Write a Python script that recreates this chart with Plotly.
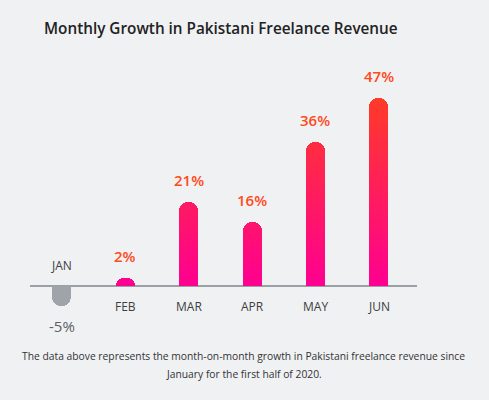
import plotly.graph_objects as go

months = ["JAN", "FEB", "MAR", "APR", "MAY", "JUN"]
growth = [-5, 2, 21, 16, 36, 47]
value_labels = ["-5%", "2%", "21%", "16%", "36%", "47%"]

title_text = "Monthly Growth in Pakistani Freelance Revenue"
note_lines = ["The data above represents the month-on-month growth in Pakistani freelance revenue since",
              "January for the first half of 2020."]

BG = "#f0f1f3"
PINK = (255, 0, 144)
RED = (255, 58, 40)
GRAY = "#9ea4aa"
FONT = "Open Sans"


def mix(t):
    c = [round(PINK[i] + (RED[i] - PINK[i]) * t) for i in range(3)]
    return "rgb(%d,%d,%d)" % tuple(c)


fig = go.Figure()

top = max(growth)
steps = int(top)
# gradient: stack thin slices of each positive bar, coloured by height
for k in range(steps):
    ys = [max(0, min(v - k, 1)) if v > 0 else 0 for v in growth]
    fig.add_trace(go.Bar(
        x=months, y=ys, width=0.3,
        marker=dict(color=mix(k / (steps - 1)), line=dict(width=0), cornerradius=9),
        showlegend=False, hoverinfo="skip",
    ))

fig.add_trace(go.Bar(
    x=months, y=[v if v < 0 else 0 for v in growth], width=0.3,
    marker=dict(color=GRAY, line=dict(width=0), cornerradius=9),
    showlegend=False, hoverinfo="skip",
))

for m, v, lab in zip(months, growth, value_labels):
    pos = v >= 0
    fig.add_annotation(
        x=m, y=v, text=lab, showarrow=False,
        yanchor="bottom" if pos else "top", yshift=10 if pos else -8,
        font=dict(family=FONT, size=15, color="#ff4a1c" if pos else "#5c6064", weight=600 if pos else 400),
    )
    fig.add_annotation(
        x=m, y=0, text=m, showarrow=False,
        yanchor="top" if pos else "bottom", yshift=-10 if pos else 10,
        font=dict(family=FONT, size=12, color="#3c3f42"),
    )

for i, line in enumerate(note_lines):
    fig.add_annotation(
        xref="paper", yref="paper", x=0.5517, y=(330 - 356 - 17.5 * i) / 250, yanchor="middle",
        text=line, showarrow=False, align="center",
        font=dict(family=FONT, size=10.3, color="#333333"),
    )

fig.update_layout(
    width=489, height=400,
    paper_bgcolor=BG, plot_bgcolor=BG,
    margin=dict(l=30, r=72, t=80, b=70),
    barmode="relative", bargap=0,
    title=dict(text=title_text, x=44 / 489, xanchor="left", xref="container",
               y=1 - 29 / 400, yanchor="middle", yref="container",
               font=dict(family=FONT, size=15.3, color="#222222", weight=600)),
    xaxis=dict(range=[-0.5, 5.6], showticklabels=False, showgrid=False, zeroline=False,
               showline=False, fixedrange=True),
    yaxis=dict(range=[-11, 51.5], showticklabels=False, showgrid=False, zeroline=True,
               zerolinecolor="#9aa0a5", zerolinewidth=2, showline=False, fixedrange=True),
)

fig.write_html("out.html", config={"displayModeBar": False},
               post_script="document.body.style.margin='0';document.body.style.background='%s';" % BG)
